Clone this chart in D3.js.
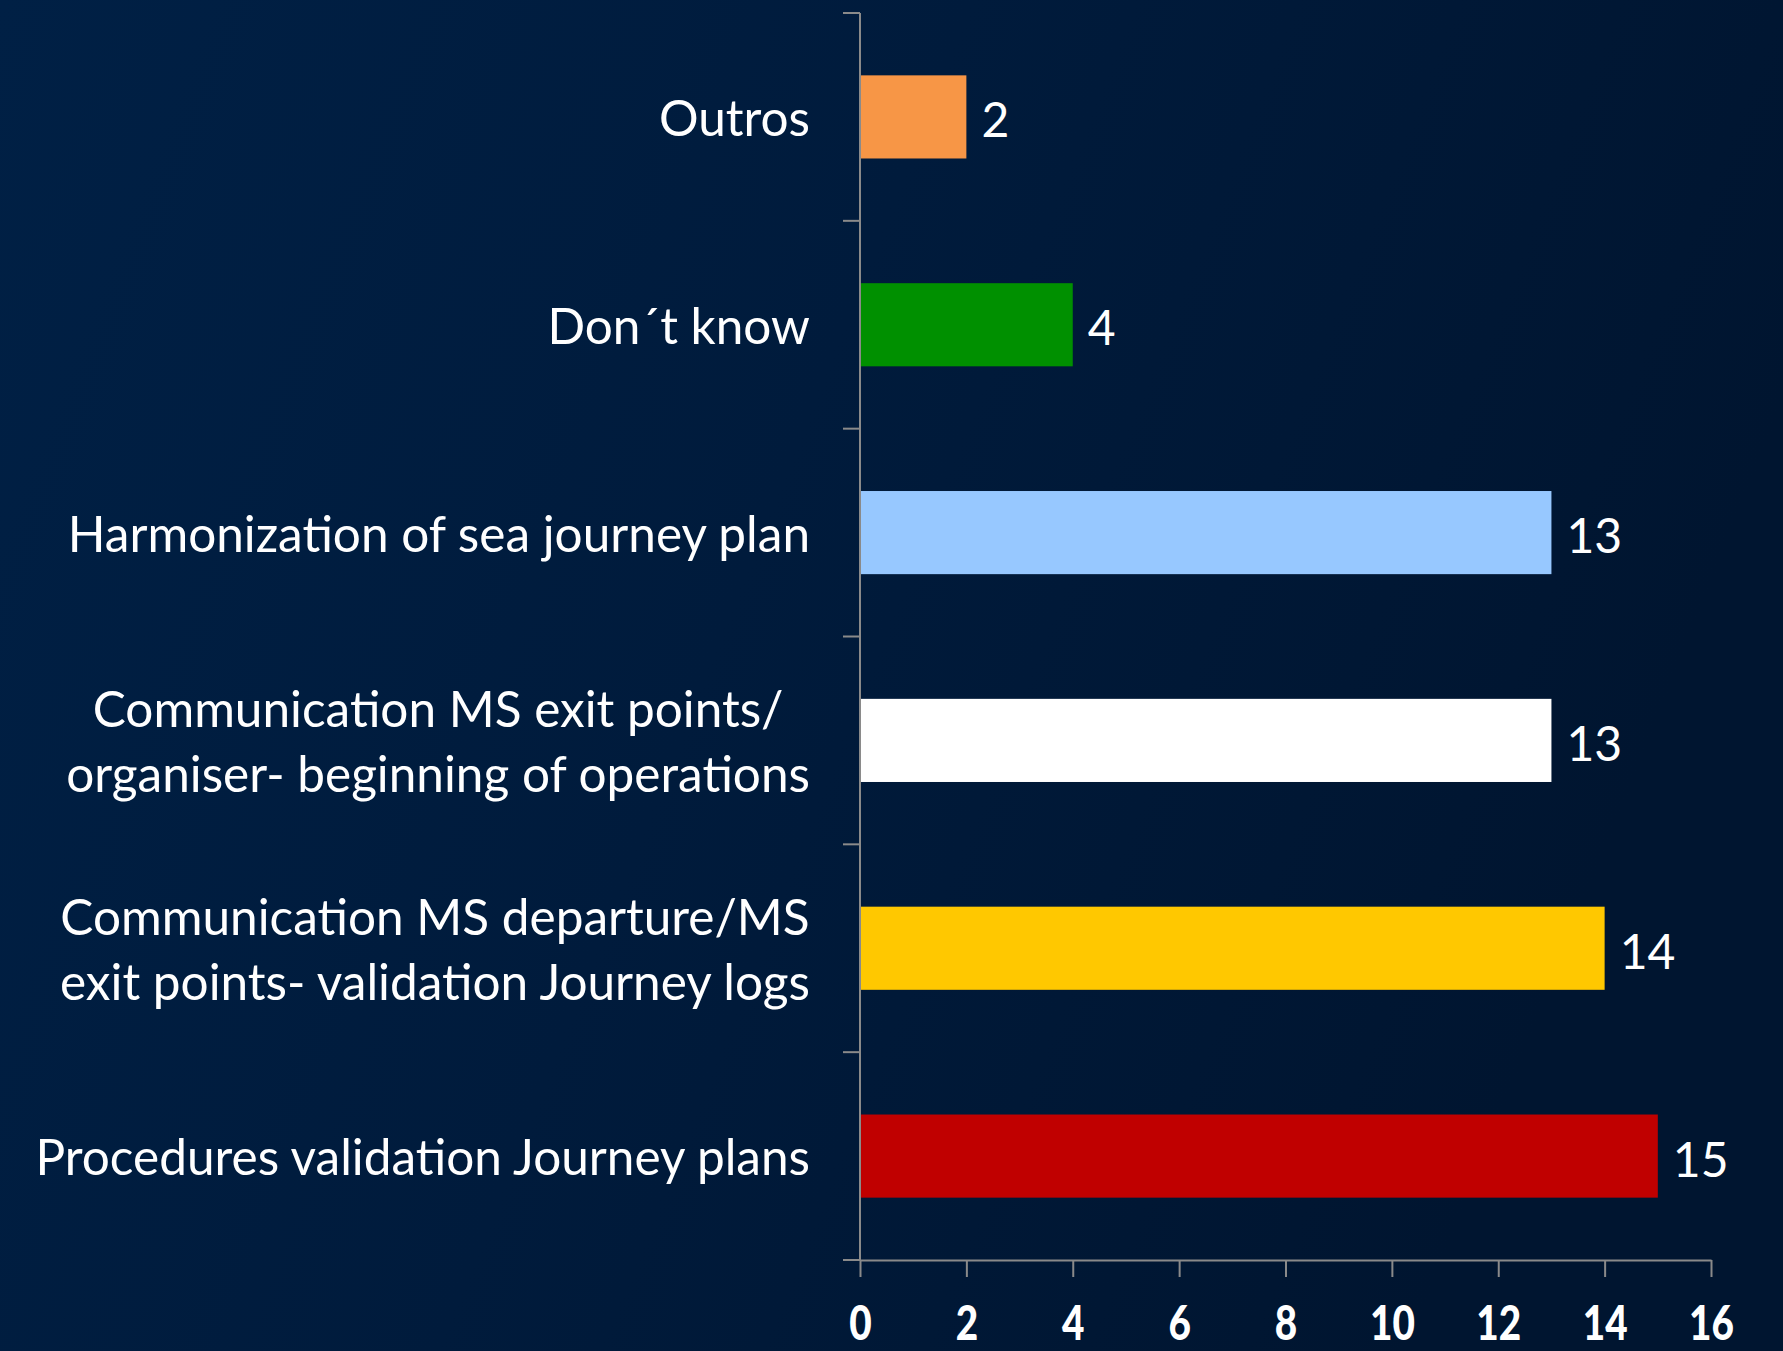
<!DOCTYPE html>
<html>
<head>
<meta charset="utf-8">
<script src="https://cdn.jsdelivr.net/npm/d3@7"></script>
<style>
  html, body { margin: 0; padding: 0; }
  body { width: 1783px; height: 1351px; overflow: hidden; }
  .axis path, .axis line { stroke: #8a8a8a; stroke-width: 2; }
</style>
</head>
<body>
<div id="chart"></div>
<script>
var categories = ["Outros", "Don\u00b4t know", "Harmonization of sea journey plan",
  "Communication MS exit points/\norganiser- beginning of operations",
  "Communication MS departure/MS\nexit points- validation Journey logs",
  "Procedures validation Journey plans"];
var values = [2, 4, 13, 13, 14, 15];
var colors = ["#f79646", "#009000", "#97c8ff", "#ffffff", "#ffc800", "#c00000"];
var xTicks = [0, 2, 4, 6, 8, 10, 12, 14, 16];

var svg = d3.select("#chart").append("svg")
            .attr("width", "1783")
            .attr("height", "1351");

var margin = {top: 13, right: 72, bottom: 91, left: 860};
var width = +svg.attr("width") - margin.left - margin.right;
var height = +svg.attr("height") - margin.top - margin.bottom;

// background gradient
var defs = svg.append("defs");
var grad = defs.append("linearGradient")
    .attr("id", "bg")
    .attr("x1", "0").attr("y1", "0")
    .attr("x2", "1").attr("y2", "0.3");
grad.append("stop").attr("offset", "0").attr("stop-color", "#002045");
grad.append("stop").attr("offset", "0.5").attr("stop-color", "#001b3c");
grad.append("stop").attr("offset", "1").attr("stop-color", "#001530");
svg.append("rect").attr("width", 1783).attr("height", 1351).attr("fill", "url(#bg)");

var x = d3.scaleLinear().domain([0, 16]).range([0, width]);
var y = d3.scaleBand().domain(categories).range([0, height]).paddingInner(0.6).paddingOuter(0.3);

var g = svg.append("g").attr("transform", "translate(" + margin.left + "," + margin.top + ")");

// y axis: ticks at band boundaries
var bounds = d3.range(categories.length + 1).map(function(i){ return i * height / categories.length; });
var yax = g.append("g").attr("class", "axis");
yax.append("line").attr("x1", 0).attr("x2", 0).attr("y1", 0).attr("y2", height);
yax.selectAll(".yt").data(bounds).enter().append("line")
    .attr("class", "yt")
    .attr("x1", -17).attr("x2", 0)
    .attr("y1", function(d){ return d; }).attr("y2", function(d){ return d; });

// x axis
var xax = g.append("g")
    .attr("class", "axis")
    .attr("transform", "translate(0," + height + ")")
    .call(d3.axisBottom(x).tickValues(xTicks).tickSize(17).tickSizeOuter(0).tickPadding(0));
xax.select(".domain").attr("stroke", "#8a8a8a");
xax.selectAll("text")
    .attr("y", null).attr("dy", null)
    .attr("fill", "#ffffff")
    .attr("font-family", "Lato, 'DejaVu Sans', sans-serif")
    .attr("font-weight", "900")
    .attr("font-size", 43)
    .attr("dominant-baseline", "central")
    .attr("transform", "translate(0,61) scale(0.9,1.12)");

// bars
g.selectAll(".bar").data(categories).enter().append("rect")
    .attr("class", "bar")
    .attr("x", x(0) + 1)
    .attr("y", function(d){ return y(d); })
    .attr("width", function(d, i){ return x(values[i]) - x(0) - 1; })
    .attr("height", y.bandwidth())
    .attr("fill", function(d, i){ return colors[i]; });

// value labels
g.selectAll(".val").data(categories).enter().append("text")
    .attr("class", "val")
    .attr("x", function(d, i){ return x(values[i]) + 15; })
    .attr("y", function(d){ return y(d) + y.bandwidth() / 2 + 2; })
    .attr("dominant-baseline", "central")
    .attr("fill", "#ffffff")
    .attr("font-family", "Lato, sans-serif")
    .attr("font-size", 48)
    .text(function(d, i){ return values[i]; });

// category labels
var lab = g.selectAll(".cat").data(categories).enter().append("text")
    .attr("class", "cat")
    .attr("text-anchor", "middle")
    .attr("fill", "#ffffff")
    .attr("font-family", "Lato, sans-serif")
    .attr("font-size", 49.5);
lab.each(function(d){
  var lines = d.split("\n");
  var t = d3.select(this);
  var cy = y(d) + y.bandwidth() / 2;
  lines.forEach(function(s, k){
    t.append("tspan")
      .attr("x", 0)
      .attr("y", cy + (k - (lines.length - 1) / 2) * 65)
      .attr("dominant-baseline", "central")
      .text(s);
  });
});
// right-align block, lines centred to each other
lab.each(function(){
  var w = this.getBBox().width;
  d3.select(this).attr("transform", "translate(" + (-50 - w / 2) + ",0)");
});
</script>
</body>
</html>
